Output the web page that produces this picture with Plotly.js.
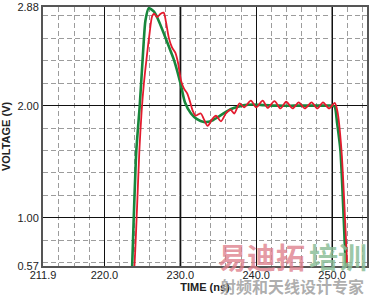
<!DOCTYPE html>
<html>
<head>
<meta charset="utf-8">
<script src="https://cdn.plot.ly/plotly-3.0.1.min.js"></script>
<style>html,body{margin:0;padding:0;background:#fff;}#chart{width:369px;height:297px;}</style>
</head>
<body>
<div id="chart"></div>
<script>
// Green (ideal) waveform
var greenTime = [223.5, 223.65, 223.86, 224.2, 224.65, 225.1, 225.4, 225.85, 226.5, 227.0, 227.85, 228.7, 229.2, 230.05, 230.6, 231.4, 232.2, 233.1, 234.0, 234.9, 235.8, 236.7, 237.6, 238.5, 239.5, 241.0, 243.0, 245.0, 247.0, 249.0, 250.0, 250.35, 250.65, 251.1, 251.8, 252.0];
var greenVolt = [0.35, 0.57, 1.0, 1.6, 2.0, 2.49, 2.76, 2.87, 2.84, 2.78, 2.64, 2.49, 2.40, 2.19, 2.03, 1.93, 1.88, 1.855, 1.86, 1.895, 1.935, 1.97, 1.99, 2.005, 2.01, 2.005, 2.0, 2.0, 2.0, 2.0, 2.0, 1.99, 1.85, 1.6, 0.57, 0.35];

// Red (measured) waveform
var redTime = [223.6, 223.95, 224.3, 224.6, 224.9, 225.2, 225.55, 225.9, 226.3, 226.55, 226.95, 227.4, 227.8, 228.1, 228.5, 228.9, 229.35, 229.7, 230.1, 230.5, 230.9, 231.3, 231.6, 232.0, 232.3, 232.7, 233.1, 233.6, 234.2, 234.7, 235.35, 236.0, 236.6, 237.1, 237.8, 238.4, 239.3, 240.0, 240.85, 241.5, 242.4, 243.2, 243.95, 244.8, 245.6, 246.4, 247.3, 248.05, 248.8, 249.6, 250.35, 250.7, 251.24, 252.0, 252.2];
var redVolt = [0.3, 0.57, 1.1, 1.6, 1.95, 2.2, 2.42, 2.62, 2.80, 2.82, 2.79, 2.82, 2.83, 2.75, 2.60, 2.52, 2.47, 2.38, 2.22, 2.15, 2.11, 2.03, 1.96, 1.91, 1.92, 1.93, 1.88, 1.82, 1.88, 1.91, 1.86, 1.93, 1.965, 1.93, 2.02, 1.985, 2.045, 1.985, 2.045, 1.98, 2.04, 1.975, 2.035, 1.975, 2.03, 1.975, 2.03, 1.975, 2.03, 1.975, 2.025, 1.95, 1.6, 0.57, 0.35];

var xTickVals = [211.9, 220.0, 230.0, 240.0, 250.0];
var xTickText = ["211.9", "220.0", "230.0", "240.0", "250.0"];
var yTickVals = [0.57, 1.00, 2.00, 2.88];
var yTickText = ["0.57", "1.00", "2.00", "2.88"];
var xRange = [211.9, 254.6];
var yRange = [0.57, 2.88];

var traces = [
  {x: greenTime, y: greenVolt, type: 'scatter', mode: 'lines',
   line: {color: '#17873c', width: 2.6, shape: 'spline', smoothing: 0.6}, hoverinfo: 'skip'},
  {x: redTime, y: redVolt, type: 'scatter', mode: 'lines',
   line: {color: '#e31b2e', width: 1.8, shape: 'spline', smoothing: 0.8}, hoverinfo: 'skip'}
];

var fontFam = '"Liberation Sans", Arial, Helvetica, sans-serif';
var cjk = '"Noto Sans CJK SC", sans-serif';

var layout = {
  width: 369, height: 297,
  margin: {l: 43, r: 2, t: 7, b: 31},
  paper_bgcolor: '#fff', plot_bgcolor: '#fff',
  showlegend: false,
  font: {family: fontFam, size: 11, color: '#222'},
  xaxis: {
    range: xRange, tickmode: 'array', tickvals: xTickVals, ticktext: xTickText,
    showgrid: true, gridcolor: '#111', gridwidth: 1, zeroline: false,
    showline: true, mirror: true, linecolor: '#555', linewidth: 2, ticks: '',
    ticklabelstandoff: -2,
    minor: {dtick: 2, tick0: 0, showgrid: true, gridcolor: '#9c9c9c', gridwidth: 1, griddash: '5px,3px', ticks: ''},
    tickfont: {size: 11, color: '#222'},
    title: {text: '<b>TIME (ns)</b>', font: {size: 11, color: '#222'}, standoff: 3}
  },
  yaxis: {
    range: yRange, tickmode: 'array', tickvals: yTickVals, ticktext: yTickText,
    showgrid: true, gridcolor: '#111', gridwidth: 1, zeroline: false,
    showline: true, mirror: true, linecolor: '#555', linewidth: 2, ticks: '',
    minor: {dtick: 0.2, tick0: 0, showgrid: true, gridcolor: '#9c9c9c', gridwidth: 1, griddash: '5px,3px', ticks: ''},
    tickfont: {size: 11, color: '#222'},
    title: {text: '<b>VOLTAGE (V)</b>', font: {size: 11, color: '#222'}, standoff: 6}
  },
  shapes: [
    {type: 'line', xref: 'x', yref: 'paper', x0: 230, x1: 230, y0: 0, y1: 1, line: {color: '#808080', width: 2.5}, layer: 'below'},
    {type: 'line', xref: 'x', yref: 'paper', x0: 250, x1: 250, y0: 0, y1: 1, line: {color: '#444', width: 1.5}, layer: 'below'}
  ],
  annotations: [
    {text: '<b>易迪拓</b>', xref: 'paper', yref: 'paper', x: 0.674, y: 0.04, xanchor: 'center', yanchor: 'middle', showarrow: false,
     font: {family: cjk, size: 29, color: 'rgba(222,128,140,0.8)'}},
    {text: '<b>培训</b>', xref: 'paper', yref: 'paper', x: 0.912, y: 0.04, xanchor: 'center', yanchor: 'middle', showarrow: false,
     font: {family: cjk, size: 29, color: 'rgba(140,190,152,0.85)'}},
    {text: '<b>射频和天线设计专家</b>', xref: 'paper', yref: 'paper', x: 0.77, y: -0.078, xanchor: 'center', yanchor: 'middle', showarrow: false,
     font: {family: cjk, size: 16, color: 'rgba(160,160,160,0.85)'}}
  ]
};

Plotly.newPlot('chart', traces, layout, {staticPlot: true, displayModeBar: false});
</script>
</body>
</html>
